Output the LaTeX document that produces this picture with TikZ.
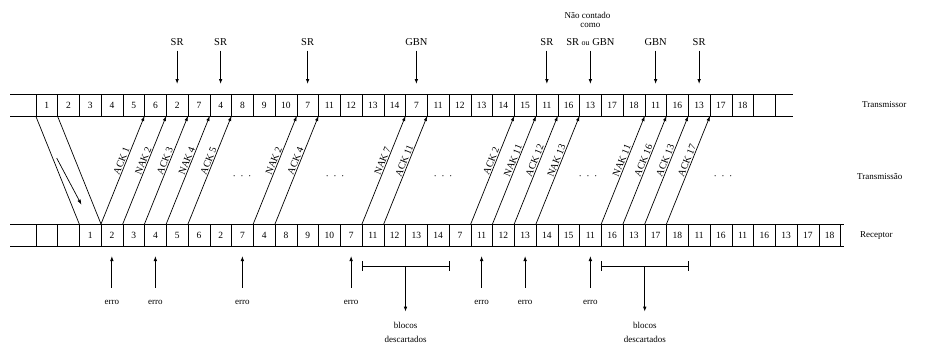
\documentclass[tikz,border=0pt]{standalone}
\usepackage{fontspec}
\setmainfont{Liberation Serif}
\usetikzlibrary{arrows.meta,calc}
\begin{document}
\begin{tikzpicture}[x=1pt,y=-1pt,
  cellbox/.style={rectangle, minimum width=21.75pt, minimum height=22pt,
    inner sep=0pt, outer sep=0pt, font=\fontsize{9.5}{9.5}\selectfont},
  walled/.style={cellbox, draw=black, line width=0.5pt},
  strip/.style={line width=0.9pt},
  arrowend/.style={-{Latex[length=5pt,width=3.6pt]}},
  fwd/.style={line width=0.7pt},
  msg/.style={line width=0.7pt, arrowend},
  msglabel/.style={font=\fontsize{10}{10}\selectfont, sloped, above, inner sep=1pt, pos=0.57},
  pointer/.style={line width=0.8pt, arrowend},
  modelabel/.style={font=\fontsize{10.5}{11}\selectfont, inner sep=0pt},
  note/.style={font=\fontsize{9}{10}\selectfont, inner sep=0pt},
  sidelabel/.style={font=\fontsize{9}{10}\selectfont, inner sep=0pt, anchor=west},
  ellipsisdots/.style={font=\fontsize{10}{10}\selectfont, inner sep=0pt},
]
\useasboundingbox (0,0) rectangle (933,348);

% transmitter row of blocks
\node[cellbox] (t0) at ({14+0.5*21.75},105) {};
\foreach \lab [count=\i from 1] in {1,2,3,4,5,6,2,7,4,8,9,10,7,11,12,13,14,7,11,12,13,14,15,11,16,13,17,18,11,16,13,17,18,{}}
  \node[walled] (t\i) at ({14+(\i+0.5)*21.75},105) {\lab};
\draw[strip] ($(t0.north west)+(-4,0)$) -- ($(t34.north east)+(18,0)$);
\draw[strip] ($(t0.south west)+(-4,0)$) -- ($(t34.south east)+(18,0)$);

% receiver row of blocks
\node[cellbox] (b0) at ({14+0.5*21.75},235) {};
\foreach \lab [count=\i from 1] in {{},{},1,2,3,4,5,6,2,7,4,8,9,10,7,11,12,13,14,7,11,12,13,14,15,11,16,13,17,18,11,16,11,16,13,17,18}
  \node[walled] (b\i) at ({14+(\i+0.5)*21.75},235) {\lab};
\draw[strip] ($(b0.north west)+(-4,0)$) -- ($(b37.north east)+(3,0)$);
\draw[strip] ($(b0.south west)+(-4,0)$) -- ($(b37.south east)+(3,0)$);

% forward propagation of the first blocks
\draw[fwd] (t1.south west) -- (b3.north west);
\draw[fwd] (t2.south west) -- (b4.north west);
\coordinate (fa) at ($(t1.south west)!0.39!(b3.north west)+(4,0)$);
\coordinate (fb) at ($(t1.south west)!0.82!(b3.north west)+(10,0)$);
\draw[pointer, line width=0.7pt] (fa) -- (fb);

% acknowledgements from receiver to transmitter
\foreach \k/\lab in {4/ACK 1, 5/NAK 2, 6/ACK 3, 7/NAK 4, 8/ACK 5,
                     11/NAK 2, 12/ACK 4, 16/NAK 7, 17/ACK 11,
                     21/ACK 2, 22/NAK 11, 23/ACK 12, 24/NAK 13,
                     27/NAK 11, 28/ACK 16, 29/ACK 13, 30/ACK 17} {
  \pgfmathtruncatemacro\j{\k+2}
  \draw[msg] (b\k.north west) -- node[msglabel]{\lab} (t\j.south west);
}

% elided traffic
\foreach \x [count=\n] in {242,335,443,588,723}
  \node[ellipsisdots] (p\n) at (\x,178) {·\hspace{4.5pt}·\hspace{4.5pt}·};

% retransmission markers
\foreach \c/\lab/\nm in {7/SR/m1, 9/SR/m2, 13/SR/m3, 18/GBN/m4, 24/SR/m5, 29/GBN/m6, 31/SR/m7} {
  \node[modelabel] (\nm) at ($(t\c.north)+(0,-52)$) {\lab};
  \draw[pointer, shorten <=5pt, shorten >=10pt] (\nm.south) -- (t\c.north);
}
\node[modelabel] (m8) at ($(t26.north)+(0,-52)$) {SR {\fontsize{8}{8}\selectfont ou} GBN};
\draw[pointer, shorten <=5pt, shorten >=10pt] (m8.south) -- (t26.north);
\node[note] (nc1) at ($(m8)+(-3,-27)$) {Não contado};
\node[note] (nc2) at ($(m8)+(0,-17)$) {como};

% errors detected at the receiver
\foreach \c [count=\n] in {4,6,10,15,21,23,26} {
  \node[note] (e\n) at ($(b\c.south)+(0,56)$) {erro};
  \draw[pointer, shorten <=12pt, shorten >=10pt] (e\n.north) -- (b\c.south);
}

% discarded blocks
\foreach \a/\b/\n in {16/19/1, 27/30/2} {
  \coordinate (bl\n) at ($(b\a.south west)+(0,20)$);
  \coordinate (br\n) at ($(b\b.south east)+(0,20)$);
  \coordinate (bm\n) at ($(bl\n)!0.5!(br\n)$);
  \draw[line width=0.8pt] (bl\n) -- (br\n);
  \draw[line width=0.8pt] ($(bl\n)+(0,-5)$) -- ($(bl\n)+(0,5)$);
  \draw[line width=0.8pt] ($(br\n)+(0,-5)$) -- ($(br\n)+(0,5)$);
  \node[note] (bk\n) at ($(bm\n)+(0,59)$) {blocos};
  \node[note] (dc\n) at ($(bm\n)+(0,73)$) {descartados};
  \draw[pointer, shorten >=10pt] (bm\n) -- (bk\n.north);
}

% row names
\node[sidelabel] (lt) at (862,105) {Transmissor};
\node[sidelabel] (lm) at (857,177) {Transmissão};
\node[sidelabel] (lr) at (860,236) {Receptor};
\end{tikzpicture}
\end{document}
